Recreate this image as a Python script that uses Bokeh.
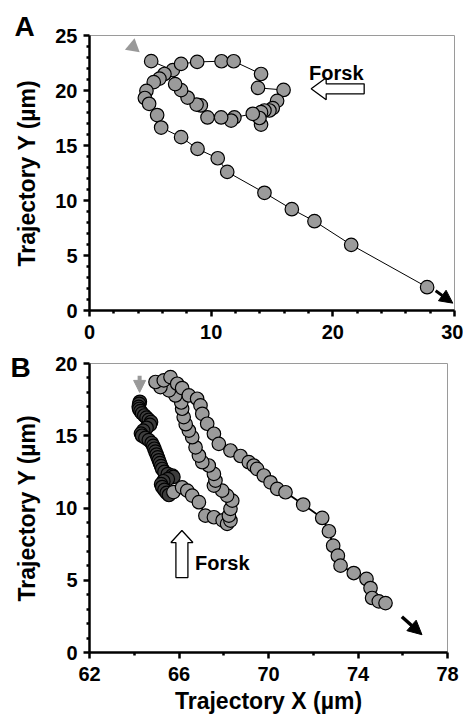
from bokeh.plotting import figure
from bokeh.layouts import column
from bokeh.models import Range1d, FixedTicker, Label, Arrow, NormalHead
from bokeh.embed import file_html
from bokeh.resources import INLINE

# ---------------- data ----------------
# Panel A trajectory (um), in time order
a_x = [5.07, 6.85, 7.53, 8.85, 10.85, 11.85, 14.10, 13.85, 15.95, 15.42, 15.06, 14.79,
       14.38, 14.10, 14.10, 13.97, 13.42, 11.91, 11.64, 10.82, 9.70, 9.15, 8.80, 8.06,
       7.53, 7.04, 6.16, 5.75, 5.28, 4.68, 4.55, 4.90, 5.56, 5.89, 7.53, 8.88, 10.54,
       11.32, 14.38, 16.63, 18.49, 21.51, 27.75]
a_y = [22.67, 21.85, 22.42, 22.60, 22.66, 22.66, 21.50, 20.24, 20.05, 19.06, 18.40, 18.18,
       18.18, 18.03, 16.90, 17.50, 17.88, 17.55, 17.27, 17.55, 17.55, 18.64, 18.72, 19.36,
       20.03, 20.58, 21.50, 21.08, 20.76, 19.97, 19.32, 18.79, 17.77, 16.63, 15.76, 14.69,
       13.84, 12.60, 10.70, 9.21, 8.12, 5.97, 2.12]

# Panel B trajectory before forskolin (dark symbols)
b_dark_x = [64.25, 64.22, 64.20, 64.22, 64.28, 64.35, 64.45, 64.55, 64.65, 64.75, 64.70,
            64.55, 64.40, 64.30, 64.35, 64.50, 64.65, 64.78, 64.85, 64.90, 64.95, 65.00,
            65.05, 65.10, 65.15, 65.20, 65.25, 65.35, 65.50, 65.70, 65.75, 65.50, 65.30,
            65.20, 65.25, 65.35, 65.45, 65.55]
b_dark_y = [17.35, 17.20, 17.00, 16.85, 16.70, 16.55, 16.40, 16.25, 16.10, 15.95, 15.75,
            15.55, 15.35, 15.15, 15.00, 14.85, 14.70, 14.50, 14.30, 14.10, 13.90, 13.70,
            13.50, 13.30, 13.10, 12.90, 12.70, 12.50, 12.35, 12.25, 12.15, 12.00, 11.85,
            11.65, 11.45, 11.25, 11.05, 10.90]
# Panel B trajectory after forskolin (grey symbols)
b_x = [65.75, 66.14, 66.37, 66.59, 66.89, 67.18, 67.56, 67.95, 68.15, 68.30, 68.23, 68.30,
       68.38, 68.15, 67.93, 67.56, 67.63, 67.56, 67.33, 67.04, 66.89, 66.74, 66.59, 66.44,
       66.30, 66.21, 66.14, 66.10, 65.84, 65.55, 65.17, 64.95, 65.32, 65.62, 65.92, 66.14,
       66.44, 66.81, 66.96, 67.04, 67.26, 67.56, 67.78, 68.30, 68.75, 69.12, 69.34, 69.49,
       69.79, 70.09, 70.39, 70.76, 71.55, 72.40, 72.70, 72.89, 73.10, 73.22, 73.81, 74.38,
       74.56, 74.63, 74.93, 75.23]
b_y = [11.10, 11.43, 11.20, 10.86, 10.40, 9.47, 9.36, 9.15, 8.90, 9.13, 9.47, 9.94,
       10.51, 10.86, 11.20, 11.55, 11.90, 12.36, 12.94, 13.17, 13.63, 14.20, 14.90, 15.36,
       15.80, 16.29, 16.87, 17.30, 17.79, 18.14, 18.37, 18.72, 18.83, 19.06, 18.60, 18.30,
       17.79, 17.56, 17.10, 16.52, 15.83, 15.14, 14.44, 13.98, 13.60, 13.17, 12.94, 12.71,
       12.25, 11.78, 11.32, 11.09, 10.24, 9.31, 8.39, 7.39, 6.70, 6.01, 5.50, 5.09,
       4.46, 3.77, 3.54, 3.42]

a_xticks = [0, 10, 20, 30]
a_yticks = [0, 5, 10, 15, 20, 25]
b_xticks = [62, 66, 70, 74, 78]
b_yticks = [0, 5, 10, 15, 20]

FONT = "Liberation Sans"
GREY = "#9b9b9b"


def minor(ticks, step):
    out = []
    for lo, hi in zip(ticks[:-1], ticks[1:]):
        v = lo + step
        while v < hi - 1e-9:
            out.append(v)
            v += step
    return out


def style(p, xt, xstep, yt, ystep):
    p.xgrid.visible = False
    p.ygrid.visible = False
    p.outline_line_color = "#9a9a9a"
    p.outline_line_width = 1
    p.background_fill_color = "white"
    p.border_fill_color = "white"
    p.xaxis.ticker = FixedTicker(ticks=xt, minor_ticks=minor(xt, xstep))
    p.yaxis.ticker = FixedTicker(ticks=yt, minor_ticks=minor(yt, ystep))
    for ax in (p.xaxis[0], p.yaxis[0]):
        ax.axis_line_width = 2.5
        ax.axis_line_color = "black"
        ax.major_tick_line_width = 2.5
        ax.minor_tick_line_width = 2.5
        ax.major_tick_line_color = "black"
        ax.minor_tick_line_color = "black"
        ax.major_tick_in = 0
        ax.major_tick_out = 6
        ax.minor_tick_in = 0
        ax.minor_tick_out = 3
        ax.major_label_text_font = FONT
        ax.major_label_text_font_style = "bold"
        ax.major_label_text_font_size = "20px"
        ax.major_label_text_color = "black"
        ax.axis_label_text_font = FONT
        ax.axis_label_text_font_style = "bold"
        ax.axis_label_text_font_size = "23px"
        ax.axis_label_text_color = "black"
    p.xaxis.major_label_standoff = 8
    p.yaxis.major_label_standoff = 6
    p.yaxis.axis_label_standoff = 12
    p.xaxis.axis_label_standoff = 4


def panel_title(p, text, offset, standoff):
    p.title.text = text
    p.title.align = "left"
    p.title.offset = offset
    p.title.standoff = standoff
    p.title.text_font = FONT
    p.title.text_font_style = "bold"
    p.title.text_font_size = "28px"
    p.title.text_color = "black"


def block_arrow(p, tip_x, tip_y, direction, length, head_len, head_half, shaft_half, sx, sy):
    # hollow block arrow, outlined in pixels relative to its tip, converted to data units
    pts = [(0, 0), (head_len, head_half), (head_len, shaft_half), (length, shaft_half),
           (length, -shaft_half), (head_len, -shaft_half), (head_len, -head_half)]
    xs, ys = [], []
    for u, v in pts:
        if direction == "left":
            dx, dy = u, v
        else:  # up
            dx, dy = v, -u
        xs.append(tip_x + dx / sx)
        ys.append(tip_y + dy / sy)
    p.patch(xs, ys, fill_color="white", line_color="black", line_width=1.3)


# ---------------- Panel A ----------------
pa = figure(frame_width=365, frame_height=275, min_border_left=85, min_border_right=13,
            min_border_top=35, min_border_bottom=35,
            x_range=Range1d(0, 30), y_range=Range1d(0, 25),
            output_backend="svg", toolbar_location=None)
style(pa, a_xticks, 2, a_yticks, 1)
pa.yaxis.axis_label = "Trajectory Y (µm)"
panel_title(pa, "A", -75, -12)

pa.line(a_x, a_y, line_color="black", line_width=1)
pa.scatter(a_x, a_y, size=13.5, fill_color=GREY, line_color="black", line_width=1.2)

# start marker (grey arrowhead) and end arrow
pa.scatter([3.58], [23.98], marker="triangle", size=15, angle=-0.17,
           fill_color="#999999", line_color=None)
pa.add_layout(Arrow(x_start=28.45, y_start=1.8, x_end=29.86, y_end=0.67,
                    line_width=3, line_color="black",
                    end=NormalHead(size=13, fill_color="black", line_color="black")))
block_arrow(pa, 18.22, 20.15, "left", 53, 15, 11, 5, 365 / 30, 275 / 25)
pa.add_layout(Label(x=18.05, y=21.6, text="Forsk", text_font=FONT, text_font_style="bold",
                    text_font_size="20px", text_color="black", text_baseline="alphabetic"))

# ---------------- Panel B ----------------
pb = figure(frame_width=358, frame_height=289, min_border_left=89, min_border_right=16,
            min_border_top=18, min_border_bottom=69,
            x_range=Range1d(62, 78), y_range=Range1d(0, 20),
            output_backend="svg", toolbar_location=None)
style(pb, b_xticks, 2, b_yticks, 1)
pb.yaxis.axis_label = "Trajectory Y (µm)"
pb.xaxis.axis_label = "Trajectory X (µm)"
panel_title(pb, "B", -79, -38)

all_x = b_dark_x + b_x
all_y = b_dark_y + b_y
pb.line(all_x, all_y, line_color="black", line_width=1.8)
pb.scatter(b_dark_x, b_dark_y, size=13.5, fill_color="#3d3d3d", line_color="black",
           line_width=1.2)
pb.scatter(b_x, b_y, size=13.5, fill_color=GREY, line_color="black", line_width=1.2)

pb.add_layout(Arrow(x_start=64.24, y_start=19.15, x_end=64.24, y_end=18.0,
                    line_width=4, line_color="#999999",
                    end=NormalHead(size=12, fill_color="#999999", line_color="#999999")))
pb.add_layout(Arrow(x_start=75.96, y_start=2.47, x_end=76.86, y_end=1.23,
                    line_width=3.5, line_color="black",
                    end=NormalHead(size=14, fill_color="black", line_color="black")))
block_arrow(pb, 66.13, 8.44, "up", 47, 12, 11, 6, 358 / 16, 289 / 20)
pb.add_layout(Label(x=66.72, y=6.17, text="Forsk", text_font=FONT, text_font_style="bold",
                    text_font_size="20px", text_color="black", text_baseline="alphabetic"))

layout = column(pa, pb)
open("out.html", "w").write(file_html(layout, INLINE))
